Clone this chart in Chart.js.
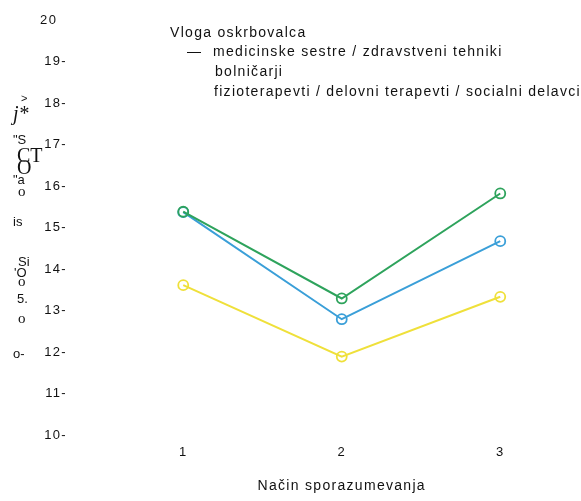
<!DOCTYPE html>
<html>
<head>
<meta charset="utf-8">
<script src="https://cdn.jsdelivr.net/npm/chart.js@4"></script>
<style>
  html, body { margin: 0; padding: 0; background: #fff; }
  #wrap { width: 581px; height: 501px; }
</style>
</head>
<body>
<div id="wrap"><canvas id="careChart" width="581" height="501"></canvas></div>
<script>
// values
const categories = ['1', '2', '3'];
const legendTitle = 'Vloga oskrbovalca';
const seriesNames = [
    'medicinske sestre / zdravstveni tehniki',
    'bolničarji',
    'fizioterapevti / delovni terapevti / socialni delavci'
];
const greenValues = [15.38, 13.29, 15.82];
const blueValues = [15.37, 12.79, 14.67];
const yellowValues = [13.61, 11.89, 13.33];
const xTitle = 'Način sporazumevanja';

// scrambled y-axis title as it appears in the scan
const yTitleBits = [
    ['>', 21, 99, '11px "Liberation Sans"'],
    ['j*', 13, 115, 'italic 20px "Liberation Serif"'],
    ['"S', 13, 140, '13px "Liberation Sans"'],
    ['CT', 17, 157, '20px "Liberation Serif"'],
    ['O', 17, 169, '20px "Liberation Serif"'],
    ['"a', 13, 180, '13px "Liberation Sans"'],
    ['o', 18, 192, '15px "Liberation Serif"'],
    ['is', 13, 222, '13px "Liberation Sans"'],
    ['Si', 18, 262, '13px "Liberation Sans"'],
    ["'O", 14, 273, '13px "Liberation Sans"'],
    ['o', 18, 282, '15px "Liberation Serif"'],
    ['5.', 17, 299, '13px "Liberation Sans"'],
    ['o', 18, 319, '15px "Liberation Serif"'],
    ['o-', 13, 354, '13px "Liberation Sans"']
];

// the scan has widely spaced lettering everywhere
const spacingPlugin = {
    id: 'spacingPlugin',
    beforeDraw(chart) { chart.ctx.letterSpacing = '1.3px'; }
};

const textPlugin = {
    id: 'textPlugin',
    afterDraw(chart) {
        const c = chart.ctx;
        c.save();
        c.fillStyle = '#111';
        c.textBaseline = 'middle';
        c.textAlign = 'left';
        c.font = '14px "Liberation Sans", Arial, sans-serif';
        c.letterSpacing = '1.3px';
        c.fillText(legendTitle, 170, 33);
        c.fillText('—', 187, 52);
        c.fillText(seriesNames[0], 213, 52);
        c.fillText(seriesNames[1], 215, 72);
        c.fillText(seriesNames[2], 214, 92);
        c.letterSpacing = '0px';
        yTitleBits.forEach(b => {
            c.font = b[3];
            c.fillText(b[0], b[1], b[2]);
        });
        c.restore();
    }
};

const ctx = document.getElementById('careChart').getContext('2d');
const careChart = new Chart(ctx, {
    type: 'line',
    data: {
        labels: categories,
        datasets: [
            { label: seriesNames[0], data: greenValues, borderColor: '#2ea35c' },
            { label: seriesNames[1], data: blueValues, borderColor: '#3a9fd8' },
            { label: seriesNames[2], data: yellowValues, borderColor: '#efe03a' }
        ].map(d => Object.assign(d, {
            backgroundColor: 'rgba(0,0,0,0)',
            borderWidth: 2,
            tension: 0,
            pointRadius: 5,
            pointBorderWidth: 1.8,
            pointBackgroundColor: 'rgba(0,0,0,0)',
            pointBorderColor: d.borderColor,
            clip: false
        }))
    },
    options: {
        responsive: false,
        animation: false,
        layout: { autoPadding: false, padding: { top: 20, right: 1.5, left: 0, bottom: 0 } },
        plugins: {
            legend: { display: false },
            tooltip: { enabled: false }
        },
        scales: {
            x: {
                offset: true,
                grid: { display: false, drawTicks: false },
                border: { display: false },
                ticks: {
                    color: '#111',
                    padding: 10,
                    font: { family: '"Liberation Sans", Arial', size: 13 }
                },
                title: {
                    display: true,
                    text: xTitle,
                    color: '#111',
                    padding: { top: 0, bottom: 6 },
                    font: { family: '"Liberation Sans", Arial', size: 14 }
                },
                afterFit(scale) { scale.height = 66; }
            },
            y: {
                min: 10,
                max: 20,
                grid: { display: false, drawTicks: false },
                border: { display: false },
                ticks: {
                    stepSize: 1,
                    color: '#111',
                    padding: 37,
                    font: { family: '"Liberation Sans", Arial', size: 13 },
                    callback: v => v === 20 ? '20  ' : v + '-'
                },
                afterFit(scale) {
                    scale.width = 104;
                    scale.paddingTop = 0;
                    scale.paddingBottom = 0;
                }
            }
        }
    },
    plugins: [spacingPlugin, textPlugin]
});
</script>
</body>
</html>
